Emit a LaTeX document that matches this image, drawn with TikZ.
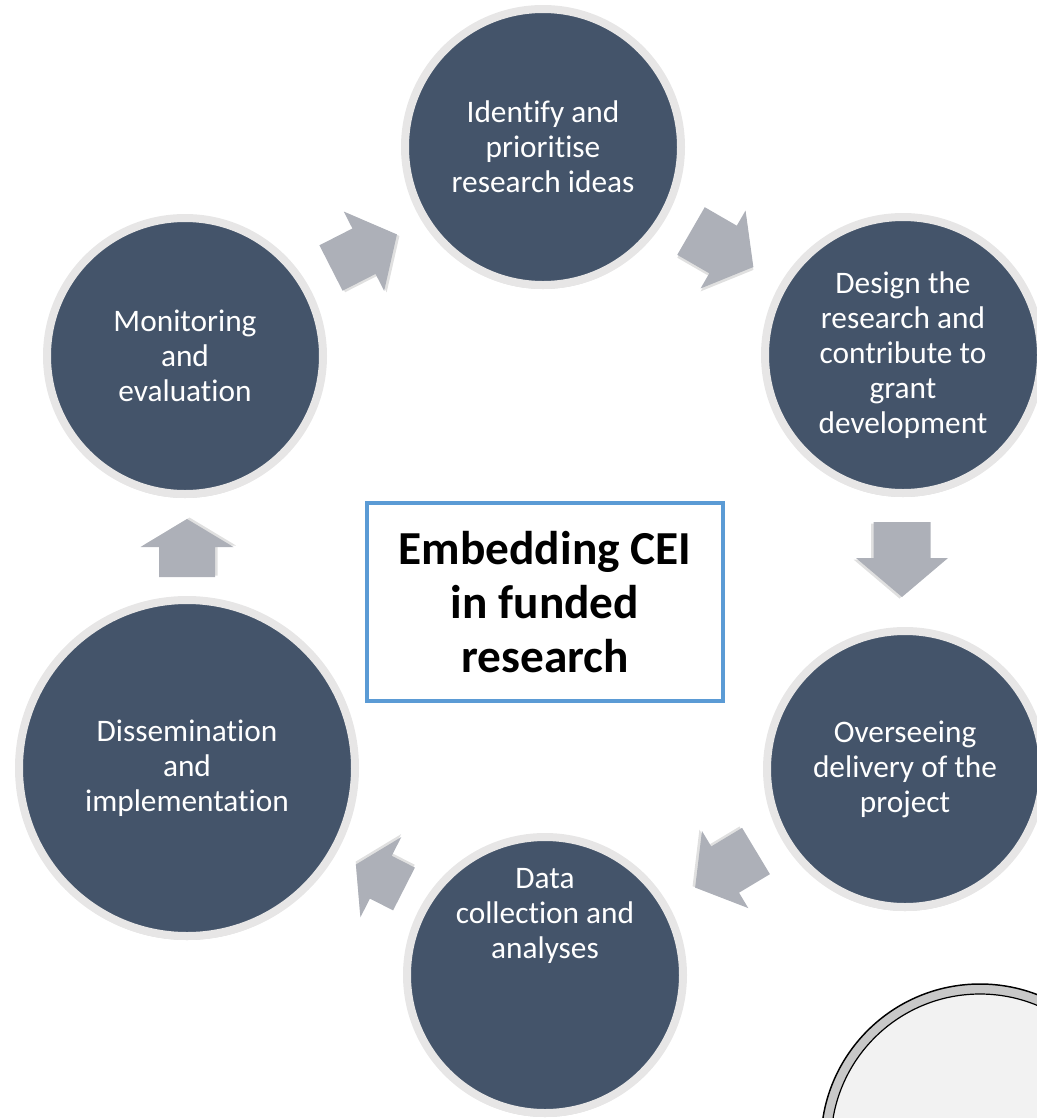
\documentclass[tikz,border=0pt]{standalone}
\usepackage{fontspec}
\setmainfont{Carlito}[RawFeature={-liga;-clig;-calt;-dlig}]
\usetikzlibrary{shadows}
\definecolor{stagefill}{HTML}{44546A}
\definecolor{ringgray}{HTML}{E7E6E6}
\definecolor{arrowgray}{HTML}{ADB0B8}
\definecolor{boxblue}{HTML}{5B9BD5}
\definecolor{paleface}{HTML}{F2F2F2}
\definecolor{facering}{HTML}{C8C8C8}
\begin{document}
\begin{tikzpicture}[x=0.75pt,y=-0.75pt,
  stage/.style={circle, fill=stagefill, draw=ringgray, line width=6pt,
    minimum size=207pt, inner sep=0pt, text=white, align=center,
    font=\fontsize{23.5}{26.3}\selectfont,
    drop shadow={shadow xshift=0pt, shadow yshift=-3pt, opacity=0.15, fill=black}},
  bigstage/.style={stage, minimum size=252pt},
  stagetext/.style={text=white, align=center, inner sep=0pt,
    font=\fontsize{23.5}{26.3}\selectfont},
  centerbox/.style={draw=boxblue, line width=2.6pt, fill=white,
    minimum width=267pt, minimum height=148.5pt, inner sep=0pt},
  titletext/.style={align=center, font=\fontsize{35.5}{40.5}\selectfont\bfseries},
  pics/blockarrow/.style n args={4}{code={
    \fill[black, opacity=0.12] (1.5,{-#2/2+2.5}) -- ({#1-#4+1.5},{-#2/2+2.5}) -- ({#1-#4+1.5},{-#3/2+2.5})
      -- ({#1+1.5},2.5) -- ({#1-#4+1.5},{#3/2+2.5}) -- ({#1-#4+1.5},{#2/2+2.5}) -- (1.5,{#2/2+2.5}) -- cycle;
    \fill[arrowgray] (0,{-#2/2}) -- ({#1-#4},{-#2/2}) -- ({#1-#4},{-#3/2})
      -- (#1,0) -- ({#1-#4},{#3/2}) -- ({#1-#4},{#2/2}) -- (0,{#2/2}) -- cycle;
  }}
]
\useasboundingbox (0,0) rectangle (1037,1118);
\clip (0,0) rectangle (1037,1118);

% stages
\node[stage] (identify) at (543,147) {Identify and\\prioritise\\research ideas};
\node[stage] (design) at (903,355) {Design the\\research and\\contribute to\\grant\\development};
\node[stage] (oversee) at (905,769) {Overseeing\\delivery of the\\project};
\node[stage] (data) at (545,975) {};
\node[stagetext] (datatext) at (545,916) {Data\\collection and\\analyses};
\node[bigstage] (dissem) at (187,768) {Dissemination\\and\\implementation};
\node[stage] (monitor) at (185,356) {Monitoring\\and\\evaluation};

% block arrows
\pic[rotate=27] (a1) at (331,268) {blockarrow={74}{51}{89}{37}};
\pic[rotate=-30] (a2) at (691,231) {blockarrow={72}{55}{90}{35}};
\pic[rotate=-90] (a3) at (902,522) {blockarrow={75}{57}{92}{39}};
\pic[rotate=-149] (a4) at (756,851) {blockarrow={71}{54}{90}{35}};
\pic[rotate=153] (a5) at (404,889) {blockarrow={54}{48}{90}{28}};
\pic[rotate=90] (a6) at (187,577) {blockarrow={58}{56}{93}{28}};

% centre box
\node[centerbox, titletext] (centre) at (545,602) {Embedding CEI\\in funded\\research};

% partial face at bottom right
\draw[black, line width=1.1pt, fill=facering] (980,1143) circle[radius=119.25pt];
\draw[black, line width=0.9pt, fill=paleface] (980,1143) circle[radius=111.75pt];
\end{tikzpicture}
\end{document}
